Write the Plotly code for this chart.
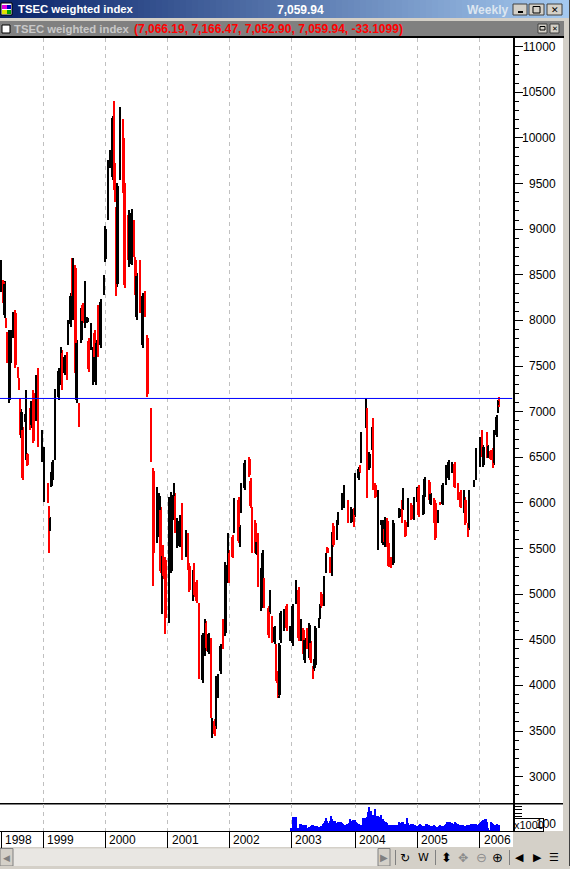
# TSEC weighted index, weekly bars with volume pane
import plotly.graph_objects as go

W, H = 570, 869

year_labels = ["1998", "1999", "2000", "2001", "2002", "2003", "2004", "2005", "2006"]
year_weeks = [0, 35, 87, 139, 190, 242, 295, 347, 399]
price_ticks = list(range(3000, 11001, 500))
resistance = 7145

bar_week = [
    0, 2, 3, 4, 5, 7, 8, 10, 12, 14,
    15, 16, 17, 18, 20, 21, 22, 24, 25, 27,
    29, 31, 34, 36, 39, 40, 41, 42, 43, 45,
    48, 50, 51, 53, 55, 56, 58, 59, 60, 62,
    63, 65, 67, 68, 70, 72, 73, 75, 77, 78,
    79, 81, 83, 86, 87, 89, 91, 93, 94, 95,
    96, 97, 99, 102, 103, 106, 107, 109, 111, 112,
    113, 116, 118, 120, 122, 125, 127, 130, 132, 133,
    134, 135, 137, 140, 142, 144, 145, 147, 149, 151,
    154, 156, 157, 160, 161, 163, 165, 168, 170, 171,
    173, 175, 176, 178, 179, 181, 183, 185, 187, 189,
    190, 193, 194, 198, 199, 200, 203, 207, 208, 209,
    212, 213, 214, 217, 218, 219, 223, 224, 226, 228,
    229, 230, 231, 232, 233, 236, 238, 241, 243, 246,
    248, 250, 252, 253, 255, 257, 258, 260, 261, 262,
    265, 266, 267, 269, 271, 272, 274, 276, 277, 280,
    281, 284, 286, 289, 292, 294, 295, 298, 299, 300,
    304, 305, 307, 309, 310, 312, 314, 317, 318, 319,
    320, 322, 323, 325, 327, 332, 334, 335, 337, 339,
    342, 344, 347, 348, 352, 353, 357, 358, 361, 362,
    364, 366, 368, 371, 373, 376, 378, 381, 383, 386,
    387, 389, 390, 394, 396, 399, 401, 402, 405, 406,
    408, 410, 411, 413, 414, 415,
]
bar_high = [
    8663, 8443, 8432, 8026, 7872, 7894, 7894, 8092, 8114, 7488,
    7367, 7148, 7027, 6830, 6972, 7236, 6544, 7038, 7115, 7236,
    7400, 7477, 6797, 6610, 6215, 5963, 5842, 6336, 6468, 7247,
    7477, 7708, 7675, 7620, 7653, 8004, 8300, 8684, 8684, 8608,
    7785, 7093, 8136, 8191, 8432, 8037, 7806, 7971, 7708, 7894,
    7785, 8169, 8235, 8498, 9036, 9760, 9870, 10243, 10408, 9727,
    9244, 9508, 10342, 10210, 9508, 9156, 9211, 9222, 9102, 8695,
    8520, 8663, 8300, 8322, 7839, 7038, 6380, 6171, 6105, 5952,
    5447, 5535, 5403, 6061, 6116, 6215, 6105, 5831, 5864, 5996,
    5699, 5666, 5337, 5260, 5337, 5151, 4909, 4580, 4733, 4711,
    4580, 4525, 3647, 3636, 4108, 4130, 4459, 4733, 5348, 5666,
    5480, 5644, 6050, 6061, 5754, 6215, 6468, 6500, 6270, 5952,
    5809, 5590, 5666, 5282, 5480, 5183, 4876, 5041, 4766, 4657,
    4459, 4163, 4031, 4470, 4821, 4843, 4898, 4657, 4898, 5151,
    5074, 4733, 4635, 4525, 4635, 4690, 4492, 4218, 4295, 4657,
    4744, 4898, 5019, 5205, 5447, 5513, 5403, 5677, 5776, 5809,
    5897, 6105, 6193, 6028, 5952, 5941, 6325, 6391, 6413, 6775,
    7148, 7038, 6555, 6830, 6928, 6215, 6138, 5809, 5809, 5732,
    5842, 5831, 5557, 5403, 5809, 5941, 6028, 6160, 5809, 6050,
    5996, 6061, 6171, 6193, 6083, 6281, 6248, 6105, 6050, 6028,
    5919, 6007, 6215, 6413, 6468, 6446, 6446, 6215, 6138, 6138,
    6061, 5776, 6138, 6248, 6599, 6720, 6797, 6632, 6775, 6632,
    6577, 6599, 6797, 6961, 7130, 7166.47,
]
bar_low = [
    8311, 8191, 8026, 7916, 7532, 7093, 7532, 7806, 7477, 7367,
    7236, 6742, 6709, 6248, 6885, 6468, 6402, 6797, 6819, 6654,
    6896, 6610, 6446, 6007, 5996, 5447, 5688, 6171, 6248, 6468,
    7126, 7291, 7236, 7400, 7345, 7730, 7927, 8256, 8004, 7422,
    7093, 6830, 7752, 7971, 7916, 7971, 7433, 7675, 7291, 7565,
    7291, 7598, 7697, 8278, 8641, 9102, 9672, 9540, 9431, 9299,
    8267, 8366, 9540, 9398, 8355, 8663, 8586, 8608, 8695, 8278,
    8004, 8081, 7697, 8037, 7159, 6446, 5085, 5556, 5622, 5227,
    4788, 5172, 4569, 4690, 5227, 5809, 5666, 5502, 5513, 5370,
    5403, 5260, 5019, 4931, 4964, 4909, 4075, 4031, 4327, 4382,
    4349, 3647, 3427, 3449, 3526, 3866, 4130, 4404, 4547, 5118,
    5118, 5392, 5666, 5556, 5513, 5886, 6138, 6281, 5941, 5447,
    5447, 5425, 5074, 4821, 5151, 4854, 4525, 4788, 4470, 4459,
    4053, 4031, 3866, 3866, 4470, 4602, 4602, 4492, 4437, 4898,
    4492, 4492, 4349, 4251, 4404, 4305, 4251, 4075, 4163, 4196,
    4635, 4733, 4854, 4876, 5227, 5447, 5227, 5205, 5513, 5590,
    5754, 5919, 5941, 5776, 5776, 5732, 5842, 6248, 6325, 6435,
    6819, 6050, 6358, 6577, 6138, 6050, 5480, 5754, 5535, 5557,
    5513, 5513, 5293, 5282, 5315, 5831, 5776, 5919, 5622, 5732,
    5809, 5809, 6007, 5842, 5864, 6061, 6028, 5974, 5776, 5590,
    5776, 5974, 5974, 6193, 6248, 6325, 6160, 6028, 5941, 5886,
    5754, 5622, 5699, 6171, 6248, 6391, 6500, 6391, 6489, 6489,
    6468, 6380, 6413, 6720, 6983, 7052.90,
]
bar_open = [
    8341, 8423, 8056, 8016, 7842, 7123, 7562, 7826, 8084, 7478,
    7357, 7118, 6739, 6800, 6895, 6498, 6534, 7018, 6849, 7206,
    6926, 7447, 6476, 6193, 6195, 5933, 5698, 6181, 6268, 6498,
    7156, 7321, 7645, 7420, 7623, 7750, 7957, 8654, 8034, 8578,
    7123, 7073, 7782, 8171, 7946, 7981, 7776, 7695, 7321, 7864,
    7321, 7982, 7727, 8298, 8671, 9132, 9690, 9570, 10378, 9697,
    9214, 8396, 9570, 10000, 9478, 9126, 8616, 8638, 9072, 8665,
    8034, 8633, 7727, 8302, 7809, 7008, 6350, 5586, 5652, 5922,
    4818, 5505, 5373, 4720, 5257, 5839, 6075, 5532, 5543, 5966,
    5433, 5636, 5307, 4961, 5307, 5131, 4879, 4061, 4357, 4681,
    4369, 4495, 3457, 3616, 3556, 3886, 4160, 4703, 4577, 5148,
    5450, 5624, 5696, 6031, 5533, 5916, 6168, 6480, 6240, 5922,
    5779, 5445, 5636, 4851, 5181, 5153, 4846, 4808, 4736, 4479,
    4429, 4143, 4011, 3896, 4500, 4622, 4868, 4512, 4467, 4918,
    5044, 4512, 4605, 4281, 4605, 4335, 4462, 4198, 4183, 4226,
    4655, 4753, 4999, 4906, 5247, 5503, 5383, 5235, 5746, 5610,
    5774, 5939, 5971, 5998, 5796, 5921, 5872, 6268, 6403, 6465,
    6839, 7008, 6378, 6607, 6898, 6195, 5510, 5764, 5565, 5712,
    5543, 5801, 5537, 5393, 5345, 5841, 5998, 5939, 5789, 5762,
    5976, 5839, 6027, 6163, 5884, 6081, 6228, 5984, 6020, 5998,
    5796, 6002, 5994, 6213, 6268, 6335, 6426, 6195, 6118, 5906,
    6031, 5766, 5729, 6181, 6278, 6421, 6767, 6411, 6745, 6499,
    6567, 6579, 6443, 6740, 6993, 7066.19,
]
bar_close = [
    8633, 8211, 8402, 7926, 7562, 7864, 7864, 8072, 7507, 7377,
    7246, 6772, 6997, 6278, 6962, 7206, 6412, 6817, 7085, 6684,
    7370, 6640, 6767, 6580, 6016, 5477, 5832, 6326, 6448, 7217,
    7447, 7678, 7266, 7600, 7375, 7984, 8270, 8286, 8654, 7452,
    7755, 6850, 8106, 7991, 8402, 8027, 7463, 7951, 7678, 7595,
    7755, 7628, 8205, 8478, 9006, 9730, 9850, 10213, 9461, 9329,
    8297, 9478, 10200, 9428, 8385, 8693, 9181, 9192, 8725, 8308,
    8490, 8111, 8270, 8057, 7189, 6476, 5447, 6141, 6075, 5257,
    5417, 5202, 4744, 6031, 6086, 6185, 5696, 5801, 5834, 5400,
    5669, 5290, 5049, 5230, 4994, 4929, 4105, 4550, 4703, 4412,
    4560, 3801, 3617, 3469, 4078, 4110, 4429, 4434, 5318, 5636,
    5148, 5412, 6020, 5586, 5734, 6185, 6438, 6301, 5971, 5477,
    5477, 5570, 5104, 5252, 5450, 4884, 4555, 5021, 4500, 4637,
    4083, 4051, 3886, 4440, 4791, 4823, 4632, 4637, 4868, 5131,
    4522, 4713, 4379, 4495, 4434, 4660, 4281, 4095, 4275, 4627,
    4734, 4878, 4874, 5175, 5427, 5457, 5247, 5647, 5543, 5789,
    5877, 6085, 6163, 5806, 5932, 5752, 6295, 6371, 6335, 6745,
    6961, 6080, 6535, 6800, 6168, 6070, 6108, 5799, 5779, 5577,
    5812, 5543, 5313, 5292, 5779, 5931, 5806, 6140, 5642, 6020,
    5829, 6031, 6151, 5872, 6063, 6261, 6048, 6095, 5806, 5620,
    5899, 5979, 6195, 6393, 6448, 6436, 6180, 6048, 5961, 6118,
    5784, 5632, 6108, 6238, 6569, 6690, 6530, 6612, 6519, 6622,
    6478, 6400, 6767, 6941, 7120, 7059.94,
]

# volume only starts at the end of 2002
vol_first_week = 242
vol_values = [
    42, 196, 196, 196, 196, 42, 42, 98, 98, 42,
    84, 84, 84, 42, 28, 56, 70, 84, 84, 70,
    70, 70, 56, 56, 56, 70, 98, 112, 140, 182,
    140, 112, 140, 210, 168, 140, 140, 112, 112, 126,
    126, 126, 112, 98, 84, 84, 98, 98, 112, 168,
    140, 154, 154, 154, 126, 112, 98, 84, 84, 84,
    182, 182, 126, 196, 266, 336, 280, 210, 224, 224,
    308, 210, 210, 182, 196, 224, 168, 140, 126, 126,
    112, 84, 84, 84, 84, 84, 84, 84, 70, 84,
    126, 112,
    126, 126, 98, 98, 182, 112, 84, 84, 98, 98,
    84, 84, 70, 70, 84, 98, 84, 70, 70, 70,
    98, 98, 84, 84, 70, 70, 70, 84, 70, 56,
    56, 70, 84, 70, 70, 70, 84, 98, 126, 126,
    126, 112, 112, 98, 126, 112, 98, 98, 84, 84,
    84, 84, 70, 70, 84, 84, 84, 84, 98, 98,
    98, 84, 98, 84, 98, 112, 126, 140, 154, 168,
    168, 126, 42, 14, 126, 112, 98, 84, 84, 98,
    70, 84,
]
assert len(bar_week) == len(bar_high) == len(bar_low) == len(bar_open) == len(bar_close)
vol_weeks = [vol_first_week + i for i in range(len(vol_values))]

up_colors = ["#000000" if c >= o else "#ff0000" for o, c in zip(bar_open, bar_close)]


def px(x):
    return x / W


def py(y):
    return 1 - y / H


def rect(x0, y0, x1, y1, fill, line=None):
    return dict(type="rect", xref="paper", yref="paper", x0=px(x0), x1=px(x1), y0=py(y0), y1=py(y1),
                fillcolor=fill, line=dict(width=1 if line else 0, color=line or fill), layer="below")


def note(x, y, text, color="#000000", size=12, family="Liberation Sans", anchor="left", bold=False, **kw):
    if bold:
        text = "<b>" + text + "</b>"
    return dict(xref="paper", yref="paper", x=px(x), y=py(y), text=text, showarrow=False, xanchor=anchor,
                yanchor="middle", font=dict(color=color, size=size, family=family), borderpad=0, **kw)


fig = go.Figure()

# wicks then bodies, each week is one bar from low to high
fig.add_trace(go.Bar(x=bar_week, y=[h - l for h, l in zip(bar_high, bar_low)], base=bar_low, width=0.83,
                     marker=dict(color=up_colors, line=dict(width=0)), opacity=0.999, hoverinfo="skip"))
fig.add_trace(go.Bar(x=bar_week, y=[abs(c - o) for o, c in zip(bar_open, bar_close)],
                     base=[min(o, c) for o, c in zip(bar_open, bar_close)], width=1.9,
                     marker=dict(color=up_colors, line=dict(width=0)), opacity=0.999, hoverinfo="skip"))
fig.add_trace(go.Bar(x=vol_weeks, y=vol_values, width=0.75, xaxis="x2", yaxis="y2",
                     marker=dict(color="#0000ff", line=dict(width=0)), opacity=0.999, hoverinfo="skip"))

shapes = [
    rect(0, 21, 564, 36, "#808080"),
    rect(0, 36, 564, 38, "#000000"),
    rect(0, 38, 563, 831, "#ffffff"),
    rect(0, 831, 513, 847, "#ffffff"),
    rect(0, 848.5, 378, 866, "#e9e7e3"),
    rect(0, 848.5, 13, 866, "#d4d0c8", "#808080"),
    rect(378, 848.5, 390, 866, "#d4d0c8", "#808080"),
    rect(569, 0, 570, H, "#404040"),
    rect(0, 866, 570, 869, "#d4d0c8"),
    rect(395, 850, 396, 865, "#808080"),
    rect(435, 850, 436, 865, "#808080"),
    rect(509, 850, 510, 865, "#808080"),
    # window icon
    rect(1, 3, 12, 15, "#ffffff", "#000000"),
    rect(2, 5, 7, 9, "#e000e0"),
    rect(7, 5, 11, 9, "#0000c0"),
    rect(2, 10, 7, 14, "#e0e000"),
    rect(7, 10, 11, 14, "#00a000"),
    # window buttons
    rect(513, 4, 527, 15, "#d4d0c8", "#404040"),
    rect(529, 4, 544, 15, "#d4d0c8", "#404040"),
    rect(547, 4, 562, 15, "#d4d0c8", "#404040"),
    rect(518, 11, 523, 13, "#000000"),
    rect(533, 6.5, 540, 13, "#d4d0c8", "#000000"),
    rect(538, 24, 547, 33, "#d4d0c8", "#404040"),
    rect(550, 24, 559, 33, "#d4d0c8", "#404040"),
    rect(540, 26.5, 545, 30, "#d4d0c8", "#000000"),
    rect(2, 25, 10, 33, "#ffffff", "#000000"),
    # pane divider
    rect(0, 803, 563, 804.5, "#000000"),
]
# title bar gradient
left, right = (10, 36, 106), (166, 202, 240)
for i in range(0, W, 6):
    t = i / W
    c = tuple(round(a + (b - a) * t) for a, b in zip(left, right))
    shapes.insert(0, rect(i, 0, i + 6, 18, "rgb(%d,%d,%d)" % c))
# resistance line across the price pane
shapes.append(dict(type="line", xref="x", yref="y", x0=-0.83, x1=426.25, y0=resistance, y1=resistance,
                   line=dict(color="#0000ff", width=1)))

notes = [
    note(17, 9, "TSEC weighted index", "#ffffff", 11.3, "Liberation Sans", bold=True),
    note(276, 9.5, "7,059.94", "#ffffff", 12, "Liberation Sans", bold=True),
    note(466, 10, "Weekly", "#dde6f0", 12, "Liberation Sans", bold=True),
    note(554.5, 9.5, "✕", "#000000", 9, "DejaVu Sans", anchor="center"),
    note(554.5, 28.5, "✕", "#000000", 7, "DejaVu Sans", anchor="center"),
    note(13, 29, "TSEC weighted index", "#c8c8c8", 11.3, "Liberation Sans", bold=True),
    note(133, 29, "(7,066.19, 7,166.47, 7,052.90, 7,059.94, -33.1099)", "#ff0000", 12, "Liberation Sans", bold=True),
    # volume multiplier box
    dict(xref="paper", yref="paper", x=px(528.5), y=py(825), text="x1000", showarrow=False, xanchor="center",
         yanchor="middle", width=28, height=12, bgcolor="#ffffff", bordercolor="#000000", borderwidth=1, borderpad=0,
         font=dict(color="#000000", size=11, family="Liberation Sans")),
    # toolbar
    note(384, 857.5, "▶", "#808080", 10, "DejaVu Sans", anchor="center"),
    note(6.5, 857.5, "◀", "#808080", 9, "DejaVu Sans", anchor="center"),
    note(405, 857.5, "↻", "#000000", 12, "DejaVu Sans", anchor="center"),
    note(423, 857.5, "W", "#000000", 11, "DejaVu Sans", anchor="center"),
    note(446, 857.5, "⬍", "#000000", 13, "DejaVu Sans", anchor="center"),
    note(463, 857.5, "✥", "#8c8c8c", 12, "DejaVu Sans", anchor="center"),
    note(481, 857.5, "⊖", "#8c8c8c", 13, "DejaVu Sans", anchor="center"),
    note(497, 857.5, "⊕", "#000000", 13, "DejaVu Sans", anchor="center"),
    note(519, 857.5, "◀", "#000000", 11, "DejaVu Sans", anchor="center"),
    note(537, 857.5, "▶", "#000000", 11, "DejaVu Sans", anchor="center"),
    note(554, 857.5, "☰", "#000000", 11, "DejaVu Sans", anchor="center"),
]
# right aligned price labels, plotly would left align them on a right side axis
for v in price_ticks:
    notes.append(dict(xref="paper", yref="y", x=px(558), y=v, text=str(v), showarrow=False, xanchor="right",
                      yanchor="middle", font=dict(color="#000000", size=12, family="Liberation Sans")))
notes.append(dict(xref="paper", yref="y2", x=px(558), y=100, text="100", showarrow=False, xanchor="right",
                  yanchor="middle", font=dict(color="#000000", size=12, family="Liberation Sans")))
for lab, wk in zip(year_labels, year_weeks):
    notes.append(dict(xref="x2", yref="paper", x=wk, y=py(839.5), text=lab, showarrow=False, xanchor="left",
                      xshift=2, yanchor="middle", font=dict(color="#000000", size=12, family="Liberation Sans")))

plot_right = 512.5 / W
fig.update_layout(
    width=W, height=H, margin=dict(l=0, r=0, t=0, b=0, autoexpand=False),
    paper_bgcolor="#d4d0c8", plot_bgcolor="#ffffff", showlegend=False, barmode="overlay", bargap=0,
    shapes=shapes, annotations=notes,
    xaxis=dict(domain=[0, plot_right], range=[-0.83, 426.25], tickmode="array", tickvals=year_weeks,
               showticklabels=False, ticks="", showgrid=True, gridcolor="#c0c0c0", griddash="4px,4px",
               gridwidth=1, zeroline=False, anchor="y"),
    yaxis=dict(domain=[py(803), py(38)], range=[2712, 11095], side="right", anchor="x", tickmode="array",
               tickvals=price_ticks, showticklabels=False, ticks="outside", ticklen=8, tickwidth=1,
               tickcolor="#000000", showline=True, linecolor="#000000", linewidth=2, showgrid=False,
               zeroline=False, minor=dict(dtick=100, ticks="outside", ticklen=4, tickcolor="#000000", tickwidth=1)),
    xaxis2=dict(domain=[0, plot_right], range=[-0.83, 426.25], tickmode="array", tickvals=year_weeks,
                showticklabels=False, ticks="outside", ticklen=16, tickcolor="#000000", tickwidth=1,
                showline=True, linecolor="#000000", linewidth=1, showgrid=True, gridcolor="#c0c0c0",
                griddash="4px,4px", gridwidth=1, zeroline=False, anchor="y2"),
    yaxis2=dict(domain=[py(831), py(804)], range=[0, 378], side="right", anchor="x2", tickmode="array",
                tickvals=[50, 100, 150, 200, 250, 300, 350], showticklabels=False, ticks="outside", ticklen=7,
                tickcolor="#000000", tickwidth=1, showline=True, linecolor="#000000", linewidth=2,
                showgrid=False, zeroline=False),
)

fig.write_html("out.html", config=dict(displayModeBar=False),
               post_script="document.body.style.margin='0';document.body.style.overflow='hidden';")
